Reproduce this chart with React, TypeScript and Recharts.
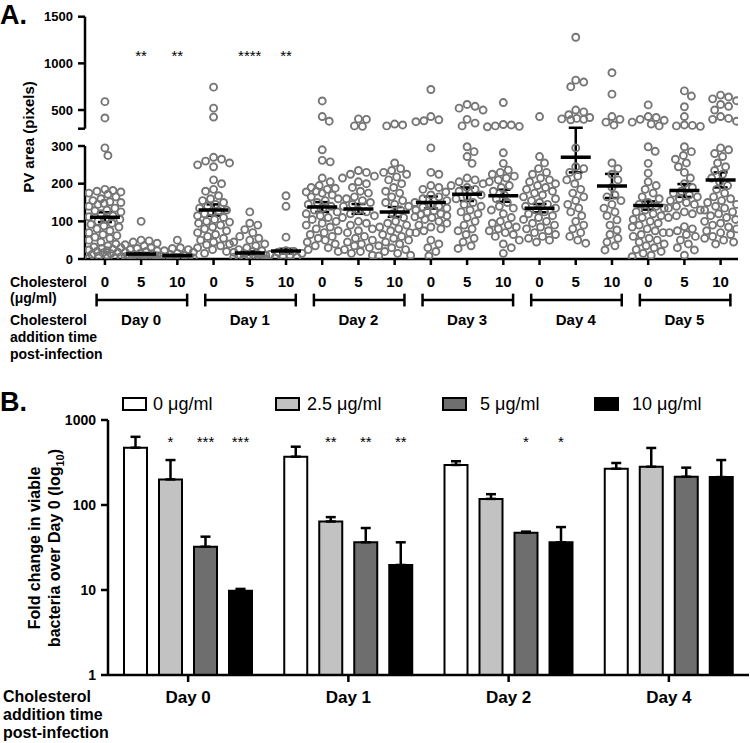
import React from 'react';
import {
  ComposedChart, Scatter, XAxis, YAxis, ErrorBar, ReferenceLine,
  BarChart, Bar, LabelList,
} from 'recharts';

const FONT = '"Liberation Sans", Arial, Helvetica, sans-serif';

// ---------------- Panel A data ----------------
const DAYS_A = ['Day 0', 'Day 1', 'Day 2', 'Day 3', 'Day 4', 'Day 5'];
const CONC_A = ['0', '5', '10'];

const D0_C0 = [590, 415, 295, 275, 185, 182, 180, 178, 175, 172, 165, 160, 155, 152, 150, 148, 145, 140, 135, 130, 128, 125, 120, 115, 112, 108, 105, 100, 95, 92, 88, 85, 80, 75, 70, 65, 62, 58, 55, 50, 45, 40, 35, 32, 30, 28, 26, 24, 22, 20, 18, 16, 14, 12, 10, 8, 6, 4, 2];
const D0_C5 = [100, 50, 48, 45, 42, 38, 35, 30, 28, 25, 22, 20, 18, 15, 14, 12, 10, 9, 8, 6, 5, 4, 3, 2, 2, 1, 1, 0, 0];
const D0_C10 = [50, 30, 28, 25, 22, 18, 15, 12, 10, 8, 7, 6, 5, 4, 3, 2, 1, 1, 0];
const D1_C0 = [745, 520, 425, 270, 265, 260, 255, 250, 245, 210, 200, 185, 180, 168, 160, 155, 150, 145, 140, 135, 130, 128, 125, 120, 115, 110, 105, 100, 98, 95, 90, 85, 80, 75, 70, 65, 60, 55, 50, 45, 40, 38, 35, 30, 25, 20, 15];
const D1_C5 = [125, 95, 90, 78, 70, 60, 55, 50, 45, 40, 35, 30, 25, 22, 20, 18, 15, 12, 10, 8, 6, 5, 4, 3, 2, 1, 0];
const D1_C10 = [168, 140, 58, 22, 20, 18, 15, 12, 10, 8, 5, 3];
const D2_C0 = [597, 430, 380, 290, 262, 258, 215, 205, 195, 190, 188, 185, 180, 178, 175, 170, 165, 160, 155, 150, 145, 140, 135, 130, 125, 120, 115, 110, 105, 100, 95, 90, 85, 80, 75, 70, 65, 60, 55, 50, 45, 40, 35, 30, 25, 20];
const D2_C5 = [405, 400, 330, 325, 235, 230, 225, 220, 215, 205, 200, 190, 180, 175, 165, 160, 155, 150, 145, 140, 130, 125, 120, 115, 110, 100, 95, 90, 80, 75, 70, 60, 55, 50, 45, 40, 35, 30, 25, 20, 15, 10];
const D2_C10 = [350, 340, 330, 255, 240, 235, 230, 225, 218, 210, 200, 190, 180, 175, 165, 155, 150, 145, 140, 130, 120, 110, 100, 95, 90, 85, 80, 75, 70, 65, 60, 55, 50, 45, 40, 35, 30, 25, 20, 15, 10, 8];
const D3_C0 = [720, 430, 395, 385, 375, 295, 230, 225, 195, 190, 185, 178, 170, 165, 160, 155, 150, 145, 140, 138, 135, 130, 128, 125, 120, 118, 115, 112, 110, 105, 100, 95, 90, 85, 80, 75, 70, 50, 40, 30, 20, 8];
const D3_C5 = [560, 540, 520, 500, 400, 360, 330, 298, 285, 272, 254, 215, 210, 205, 200, 195, 190, 185, 180, 170, 165, 160, 150, 145, 140, 130, 125, 120, 110, 100, 90, 80, 75, 65, 55, 45, 35, 28];
const D3_C10 = [580, 345, 340, 330, 325, 320, 282, 254, 236, 230, 225, 220, 215, 210, 205, 195, 190, 180, 170, 160, 150, 140, 135, 130, 120, 110, 100, 95, 90, 85, 80, 75, 70, 65, 60, 50, 40, 30, 15];
const D4_C0 = [430, 272, 255, 240, 230, 225, 215, 210, 205, 200, 195, 190, 185, 180, 175, 170, 165, 160, 155, 150, 145, 140, 135, 130, 125, 120, 115, 110, 105, 100, 95, 90, 85, 80, 75, 70, 65, 60, 55, 50, 45];
const D4_C5 = [1280, 820, 800, 750, 500, 480, 450, 420, 410, 405, 400, 395, 295, 245, 240, 230, 220, 210, 200, 185, 175, 165, 155, 145, 135, 125, 115, 100, 90, 80, 70, 60, 50, 42];
const D4_C10 = [900, 670, 430, 400, 370, 340, 255, 240, 225, 210, 190, 170, 165, 155, 145, 135, 125, 115, 104, 90, 77, 65, 55, 45, 35, 24];
const D5_C0 = [555, 430, 420, 400, 390, 370, 350, 330, 298, 286, 254, 228, 205, 195, 185, 175, 165, 160, 150, 145, 140, 135, 130, 125, 120, 115, 110, 105, 100, 95, 90, 85, 80, 75, 70, 65, 60, 55, 50, 45, 40, 35, 30, 25, 20, 15, 10, 6];
const D5_C5 = [705, 650, 535, 430, 340, 335, 330, 325, 298, 285, 275, 265, 255, 245, 230, 215, 200, 190, 180, 175, 170, 165, 160, 155, 150, 145, 140, 135, 130, 125, 120, 115, 110, 86, 80, 75, 70, 65, 60, 50, 40, 30, 24, 10];
const D5_C10 = [660, 640, 620, 600, 560, 540, 500, 430, 410, 400, 380, 295, 290, 280, 272, 255, 245, 235, 225, 215, 205, 195, 185, 175, 165, 160, 155, 150, 145, 140, 135, 130, 125, 120, 115, 110, 105, 100, 95, 90, 85, 80, 75, 70, 65, 60, 55, 50, 45, 40];

const COLUMNS_A = [D0_C0, D0_C5, D0_C10, D1_C0, D1_C5, D1_C10, D2_C0, D2_C5, D2_C10, D3_C0, D3_C5, D3_C10, D4_C0, D4_C5, D4_C10, D5_C0, D5_C5, D5_C10];
const MEANS_A = [111, 13, 9, 130, 16, 21, 138, 133, 125, 150, 172, 168, 135, 270, 194, 142, 182, 210];
const SEMS_A = [13, 3, 2, 15, 4, 6, 13, 13, 13, 16, 18, 16, 11, 40, 32, 11, 17, 20];
const STARS_A = ['', '**', '**', '', '****', '**', '', '', '', '', '', '', '', '', '', '', '', ''];
const STAR_LEVEL_A = 1120;
const Y_TICKS_A = [0, 100, 200, 300, 500, 1000, 1500];

// ---------------- Panel B data ----------------
const DAYS_B = ['Day 0', 'Day 1', 'Day 2', 'Day 4'];
const NAMES_B = ['0 \u03bcg/ml', '2.5 \u03bcg/ml', '5 \u03bcg/ml', '10 \u03bcg/ml'];
const FC_0 = [472, 370, 296, 267];
const FC_0_TOP = [634, 485, 327, 312];
const FC_25 = [200, 64, 118, 282];
const FC_25_TOP = [338, 72, 134, 469];
const FC_5 = [32.3, 36.4, 47.2, 215];
const FC_5_TOP = [42.4, 53.6, 48.6, 275];
const FC_10 = [9.8, 19.7, 36.4, 213];
const FC_10_TOP = [10.3, 36.4, 55, 338];
const STARS_B_0 = ['', '', '', ''];
const STARS_B_25 = ['*', '**', '', ''];
const STARS_B_5 = ['***', '**', '*', ''];
const STARS_B_10 = ['***', '**', '*', ''];
const STAR_LEVEL_B = 614;
const Y_TICKS_B = [1, 10, 100, 1000];

// ---------------- styling / layout ----------------
const FILLS_B = ['#ffffff', '#c2c2c2', '#6e6e6e', '#000000'];
const POINT_COLOR = '#767676';

// broken axis transform (lower 0-300 linear, upper 300-1500 compressed)
const BREAK = 300;
const GAP = 46;
const K = 0.2478;
const tf = (v: number) => (v <= BREAK ? v : BREAK + GAP + (v - BREAK) * K);
const inv = (t: number) => (t <= BREAK ? t : BREAK + (t - BREAK - GAP) / K);
const TOP_A = tf(1500);
const UPPER_START = BREAK + GAP;
const X_MIN_A = -0.55;
const X_MAX_A = 17.48;
const PX_PER_X = 36.28;
const PX_PER_Y = 0.3767;

function swarm(vals: number[]): number[] {
  const placed: { x: number; y: number }[] = [];
  const MIN_D = 8;
  const MAX_OFF = 16;
  return vals.map((v) => {
    const py = tf(v) * PX_PER_Y;
    let best = 0;
    let bestD = -1;
    for (let k = 0; k <= 2 * MAX_OFF; k++) {
      const off = (k % 2 === 1 ? 1 : -1) * Math.ceil(k / 2);
      let dmin = Infinity;
      for (const p of placed) {
        const d = Math.hypot(p.x - off, p.y - py);
        if (d < dmin) dmin = d;
      }
      if (dmin >= MIN_D) { best = off; bestD = dmin; break; }
      if (dmin > bestD) { bestD = dmin; best = off; }
    }
    placed.push({ x: best, y: py });
    return best / PX_PER_X;
  });
}

const pointsA = COLUMNS_A.flatMap((col, i) => {
  const offs = swarm(col);
  return col.map((v, j) => ({ x: i + offs[j], y: tf(v) }));
});
const meansA = MEANS_A.map((m, i) => ({
  x: i,
  y: tf(m),
  err: [tf(m) - tf(Math.max(0, m - SEMS_A[i])), tf(m + SEMS_A[i]) - tf(m)],
}));
const starsA = STARS_A.map((s, i) => ({ x: i, y: tf(STAR_LEVEL_A), label: s })).filter((d) => d.label);

const yTicksA = [0, 100, 200, 300, UPPER_START, ...Y_TICKS_A.filter((v) => v > BREAK).map(tf)];
const colTicks = COLUMNS_A.map((_, i) => i);
const dayTicks = DAYS_A.map((_, d) => d * 3 + 1);

const BRACKET_Y = -109;
const CAP = 17;

const dataB = DAYS_B.map((day, i) => ({
  day,
  v0: FC_0[i], e0: [0, FC_0_TOP[i] - FC_0[i]],
  v25: FC_25[i], e25: [0, FC_25_TOP[i] - FC_25[i]],
  v5: FC_5[i], e5: [0, FC_5_TOP[i] - FC_5[i]],
  v10: FC_10[i], e10: [0, FC_10_TOP[i] - FC_10[i]],
}));

const Circle = (p: any) => (
  <circle cx={p.cx} cy={p.cy} r={3.5} fill="none" stroke={POINT_COLOR} strokeWidth={1.9} />
);
const MeanLine = (p: any) => (
  <line x1={p.cx - 15} x2={p.cx + 15} y1={p.cy} y2={p.cy} stroke="#000" strokeWidth={3.5} />
);
const StarText = (p: any) => (
  <text x={p.cx} y={p.cy + 9} textAnchor="middle" fontSize={15} fontFamily={FONT} fill="#000">
    {p.payload?.label}
  </text>
);

const starContent = (stars: string[], vals: number[]) => (p: any) => {
  const idx = p.index;
  const s = stars[idx];
  if (!s) return null;
  const vb = p.viewBox || {};
  const x = Number(vb.x ?? p.x);
  const y = Number(vb.y ?? p.y);
  const w = Number(vb.width ?? p.width);
  const h = Number(vb.height ?? p.height);
  const base = Math.max(y, y + h);
  const top = Math.min(y, y + h);
  const perDec = (base - top) / Math.log10(vals[idx]);
  const sy = base - perDec * Math.log10(STAR_LEVEL_B);
  return (
    <text x={x + w / 2} y={sy + 8.5} textAnchor="middle" fontSize={15} fontFamily={FONT} fill="#000">
      {s}
    </text>
  );
};

const axisStroke = { stroke: '#000', strokeWidth: 2.5 };

function PanelA() {
  return (
    <ComposedChart width={750} height={349} margin={{ top: 16.7, right: 12, bottom: 0, left: 0 }}>
      <XAxis
        xAxisId="c" type="number" dataKey="x" domain={[X_MIN_A, X_MAX_A]} allowDataOverflow
        ticks={colTicks} interval={0} tickFormatter={(i: number) => CONC_A[Math.round(i) % 3]}
        axisLine={axisStroke} tickLine={axisStroke} tickSize={6} tickMargin={11} height={40}
        tick={{ fill: '#000', fontSize: 15, fontWeight: 'bold', fontFamily: FONT }}
      />
      <XAxis
        xAxisId="d" type="number" dataKey="x" domain={[X_MIN_A, X_MAX_A]} allowDataOverflow
        ticks={dayTicks} interval={0} tickFormatter={(i: number) => DAYS_A[Math.round((i - 1) / 3)]}
        axisLine={false} tickLine={false} tickSize={0} tickMargin={15.6} height={50}
        tick={{ fill: '#000', fontSize: 15, fontWeight: 'bold', fontFamily: FONT }}
      />
      <YAxis
        type="number" dataKey="y" domain={[0, TOP_A]} allowDataOverflow ticks={yTicksA} interval={0}
        tickFormatter={(t: number) => (Math.abs(t - UPPER_START) < 0.01 ? '' : String(Math.round(inv(t))))}
        axisLine={false} tickLine={axisStroke} tickSize={7} tickMargin={5} width={85}
        tick={{ fill: '#000', fontSize: 13, fontWeight: 'bold', fontFamily: FONT }}
      />
      <ReferenceLine xAxisId="c" ifOverflow="visible" stroke="#000" strokeWidth={2.5}
        segment={[{ x: X_MIN_A, y: 0 }, { x: X_MIN_A, y: BREAK }]} />
      <ReferenceLine xAxisId="c" ifOverflow="visible" stroke="#000" strokeWidth={2.5}
        segment={[{ x: X_MIN_A, y: UPPER_START }, { x: X_MIN_A, y: TOP_A }]} />
      {DAYS_A.map((d, i) => (
        <ReferenceLine key={'h' + d} xAxisId="c" ifOverflow="visible" stroke="#000" strokeWidth={2.5}
          segment={[{ x: i * 3 - 0.23, y: BRACKET_Y }, { x: i * 3 + 2.27, y: BRACKET_Y }]} />
      ))}
      {DAYS_A.map((d, i) => (
        <ReferenceLine key={'l' + d} xAxisId="c" ifOverflow="visible" stroke="#000" strokeWidth={2.5}
          segment={[{ x: i * 3 - 0.23, y: BRACKET_Y - CAP }, { x: i * 3 - 0.23, y: BRACKET_Y + CAP }]} />
      ))}
      {DAYS_A.map((d, i) => (
        <ReferenceLine key={'r' + d} xAxisId="c" ifOverflow="visible" stroke="#000" strokeWidth={2.5}
          segment={[{ x: i * 3 + 2.27, y: BRACKET_Y - CAP }, { x: i * 3 + 2.27, y: BRACKET_Y + CAP }]} />
      ))}
      <Scatter xAxisId="c" data={pointsA} dataKey="y" shape={Circle} isAnimationActive={false} />
      <Scatter xAxisId="c" data={meansA} dataKey="y" shape={MeanLine} isAnimationActive={false}>
        <ErrorBar dataKey="err" direction="y" width={7} stroke="#000" strokeWidth={2.5} isAnimationActive={false} />
      </Scatter>
      <Scatter xAxisId="c" data={starsA} dataKey="y" shape={StarText} isAnimationActive={false} />
    </ComposedChart>
  );
}

function PanelB() {
  const series = [
    { key: 'v0', err: 'e0', stars: STARS_B_0, vals: FC_0 },
    { key: 'v25', err: 'e25', stars: STARS_B_25, vals: FC_25 },
    { key: 'v5', err: 'e5', stars: STARS_B_5, vals: FC_5 },
    { key: 'v10', err: 'e10', stars: STARS_B_10, vals: FC_10 },
  ];
  return (
    <BarChart width={750} height={363} data={dataB} margin={{ top: 40, right: 1, bottom: 38, left: 0 }}
      barSize={23} barGap={12}>
      <XAxis dataKey="day" axisLine={axisStroke} tickLine={axisStroke} tickSize={7} tickMargin={9} height={30}
        tick={{ fill: '#000', fontSize: 17, fontWeight: 'bold', fontFamily: FONT }} />
      <YAxis type="number" scale="log" domain={[1, 1000]} allowDataOverflow ticks={Y_TICKS_B} interval={0}
        axisLine={axisStroke} tickLine={axisStroke} tickSize={7} tickMargin={5} width={108}
        tick={{ fill: '#000', fontSize: 14, fontWeight: 'bold', fontFamily: FONT }} />
      {series.map((s, i) => (
        <Bar key={s.key} dataKey={s.key} name={NAMES_B[i]} fill={FILLS_B[i]} stroke="#000" strokeWidth={2}
          isAnimationActive={false}>
          <ErrorBar dataKey={s.err} direction="y" width={5} stroke="#000" strokeWidth={2.5} isAnimationActive={false} />
          <LabelList dataKey={s.key} content={starContent(s.stars, s.vals)} />
        </Bar>
      ))}
    </BarChart>
  );
}

const LEGEND_SQ_X = [123, 276, 443, 595];
const LEGEND_TX_X = [153, 307, 480, 632];

function Overlay() {
  const bold = { fontFamily: FONT, fontWeight: 'bold' as const, fill: '#000' };
  return (
    <svg width={750} height={743} style={{ position: 'absolute', left: 0, top: 0, pointerEvents: 'none' }}>
      <text x={0} y={24} fontSize={27} {...bold}>A.</text>
      <text x={0} y={411} fontSize={27} {...bold}>B.</text>
      <text transform="translate(34,137) rotate(-90)" textAnchor="middle" fontSize={15} {...bold}>PV area (pixels)</text>
      <text x={10} y={287} fontSize={14} {...bold}>Cholesterol</text>
      <text x={10} y={303} fontSize={14} {...bold}>({'\u03bc'}g/ml)</text>
      <text x={10} y={325} fontSize={14} {...bold}>Cholesterol</text>
      <text x={10} y={342} fontSize={14} {...bold}>addition time</text>
      <text x={10} y={359} fontSize={14} {...bold}>post-infection</text>
      <text transform="translate(40,548) rotate(-90)" textAnchor="middle" fontSize={16} {...bold}>Fold change in viable</text>
      <text transform="translate(60,548) rotate(-90)" textAnchor="middle" fontSize={16} {...bold}>
        bacteria over Day 0 (log<tspan fontSize={11} dy={4}>10</tspan><tspan dy={-4}>)</tspan>
      </text>
      <text x={3} y={702} fontSize={16} {...bold}>Cholesterol</text>
      <text x={3} y={720} fontSize={16} {...bold}>addition time</text>
      <text x={3} y={738} fontSize={16} {...bold}>post-infection</text>
      {NAMES_B.map((n, i) => (
        <g key={n}>
          <rect x={LEGEND_SQ_X[i]} y={398} width={23} height={12} fill={FILLS_B[i]} stroke="#000" strokeWidth={2} />
          <text x={LEGEND_TX_X[i]} y={410} fontSize={18} fontFamily={FONT} fill="#000">{n}</text>
        </g>
      ))}
    </svg>
  );
}

export default function App() {
  return (
    <div style={{ position: 'absolute', left: 0, top: 0, width: 750, height: 743, background: '#fff', fontFamily: FONT }}>
      <div style={{ position: 'absolute', left: 0, top: 0 }}>
        <PanelA />
      </div>
      <div style={{ position: 'absolute', left: 0, top: 380 }}>
        <PanelB />
      </div>
      <Overlay />
    </div>
  );
}
